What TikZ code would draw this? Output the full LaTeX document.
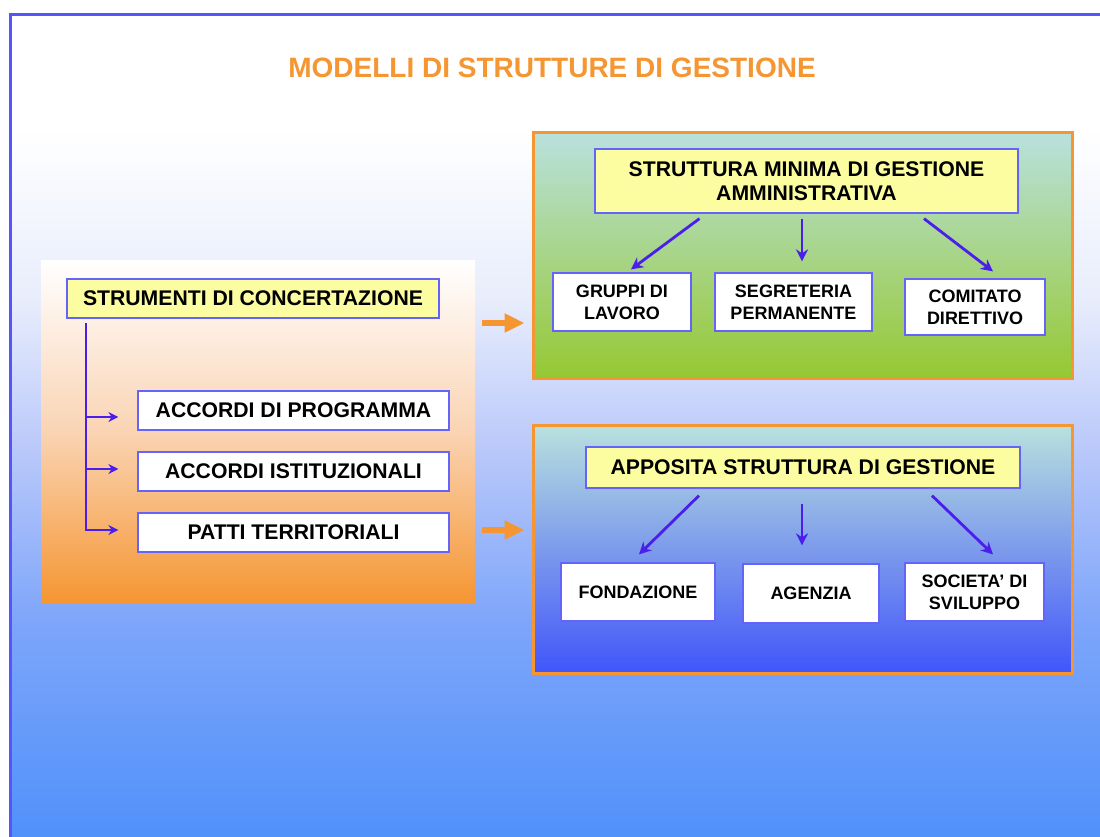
\documentclass[tikz,border=0pt]{standalone}
\usepackage{fontspec}
\setmainfont{Liberation Sans}
\usepackage{tikz}
\usetikzlibrary{calc, arrows.meta}

\definecolor{frameblue}{RGB}{85,85,250}
\definecolor{boxblue}{RGB}{100,100,250}
\definecolor{arrowblue}{RGB}{75,30,235}
\definecolor{orangeM}{RGB}{245,150,50}
\definecolor{paleyellow}{RGB}{252,252,160}
\definecolor{peach}{RGB}{250,212,180}
\definecolor{tealtop}{RGB}{185,225,222}
\definecolor{greenbot}{RGB}{150,200,50}
\definecolor{bluebot}{RGB}{65,85,250}
\definecolor{bgA}{RGB}{80,145,250}
\definecolor{bgB}{RGB}{125,165,250}
\definecolor{bgC}{RGB}{185,200,250}
\definecolor{bgD}{RGB}{232,237,252}

\pgfdeclareverticalshading{pageshade}{100bp}{color(0bp)=(bgA); color(25bp)=(bgA); color(38bp)=(bgB); color(48.5bp)=(bgC); color(57.6bp)=(bgD); color(68bp)=(white); color(100bp)=(white)}

\begin{document}
\begin{tikzpicture}[x=0.5pt, y=-0.5pt,
    mainbox/.style={draw=boxblue, line width=0.6pt, inner sep=0pt, align=center,
      font=\bfseries\fontsize{10.6}{11.7}\selectfont},
    headbox/.style={mainbox, fill=paleyellow},
    whitebox/.style={mainbox, fill=white},
    smallbox/.style={whitebox, font=\bfseries\fontsize{9}{10.8}\selectfont},
    panel/.style={inner sep=0pt},
    treearr/.style={draw=arrowblue, line width=1pt, -{Stealth[length=5pt, width=5pt]}},
    linkarr/.style={draw=arrowblue, line width=1.4pt, -{Stealth[length=6pt, width=6pt]}},
    bigarr/.style={draw=orangeM, line width=3pt, -{Triangle[length=10pt, width=9pt]}, shorten >=3.5pt}]

      \useasboundingbox (0,0) rectangle (1100,837);
      \clip (0,0) rectangle (1100,837);

      \fill[shading=pageshade] (10,14) rectangle (1110,837);
      \draw[frameblue, line width=1.5pt] (10,850) -- (10,14) -- (1110,14);

      \node[font=\bfseries\fontsize{14}{16}\selectfont, text=orangeM] (title) at (552,68) {MODELLI DI STRUTTURE DI GESTIONE};

      \node[panel, minimum width=217pt, minimum height=171pt,
        top color=white, bottom color=orangeM, middle color=peach] (lpanel) at (258,431) {};
      \node[panel, draw=orangeM, line width=1.5pt, minimum width=269.5pt, minimum height=123pt,
        top color=tealtop, bottom color=greenbot] (tpanel) at (802.5,255) {};
      \node[panel, draw=orangeM, line width=1.5pt, minimum width=269.5pt, minimum height=124pt,
        top color=tealtop, bottom color=bluebot] (bpanel) at (802.5,549) {};

      \node[headbox, minimum width=186pt, minimum height=19.5pt] (strum) at (253,298.5) {STRUMENTI DI CONCERTAZIONE};

      \foreach \nm/\y/\txt in {acc1/410.5/ACCORDI DI PROGRAMMA, acc2/471.5/ACCORDI ISTITUZIONALI, acc3/532.5/PATTI TERRITORIALI} {
          \node[whitebox, minimum width=155.5pt, minimum height=19.5pt] (\nm) at (293.5,\y) {\txt};
      }

      \coordinate (treetop) at (86,323);
      \foreach \nm/\dy in {acc1/6.5, acc2/-2.5, acc3/-2.5} {
          \draw[treearr] (treetop) |- ($(\nm.west)+(-19,\dy)$);
      }

      \coordinate (o1) at (482,323);
      \coordinate (o2) at (482,530);
      \draw[bigarr] (o1) -- (o1 -| tpanel.west);
      \draw[bigarr] (o2) -- (o2 -| bpanel.west);

      \node[headbox, minimum width=211.5pt, minimum height=32pt] (smg) at (806.5,181) {STRUTTURA MINIMA DI GESTIONE\\AMMINISTRATIVA};
      \node[smallbox, minimum width=69pt, minimum height=29pt] (gl) at (622,302) {GRUPPI DI\\LAVORO};
      \node[smallbox, minimum width=78.5pt, minimum height=29pt] (seg) at (793.5,302) {SEGRETERIA\\PERMANENTE};
      \node[smallbox, minimum width=70pt, minimum height=28pt] (cd) at (975,307) {COMITATO\\DIRETTIVO};

      \node[headbox, minimum width=217pt, minimum height=20.5pt] (aps) at (803,467.5) {APPOSITA STRUTTURA DI GESTIONE};
      \node[smallbox, minimum width=77pt, minimum height=29pt] (fond) at (638,592) {FONDAZIONE};
      \node[smallbox, minimum width=68pt, minimum height=29.5pt] (ag) at (811,593.5) {AGENZIA};
      \node[smallbox, minimum width=69.5pt, minimum height=29pt] (soc) at (974.5,592) {SOCIETA' DI\\SVILUPPO};

      \foreach \src/\dx/\dy/\dst/\ex/\ey in {smg/-107/5/gl/9/-3, smg/-4.5/5/seg/8.5/-11, smg/117.5/5/cd/18/-7,
          aps/-104/7/fond/1/-8, aps/-1/15/ag/-9/-18, aps/129/7/soc/18.5/-8} {
          \draw[linkarr] ($(\src.south)+(\dx,\dy)$) -- ($(\dst.north)+(\ex,\ey)$);
      }
    \end{tikzpicture}
\end{document}
